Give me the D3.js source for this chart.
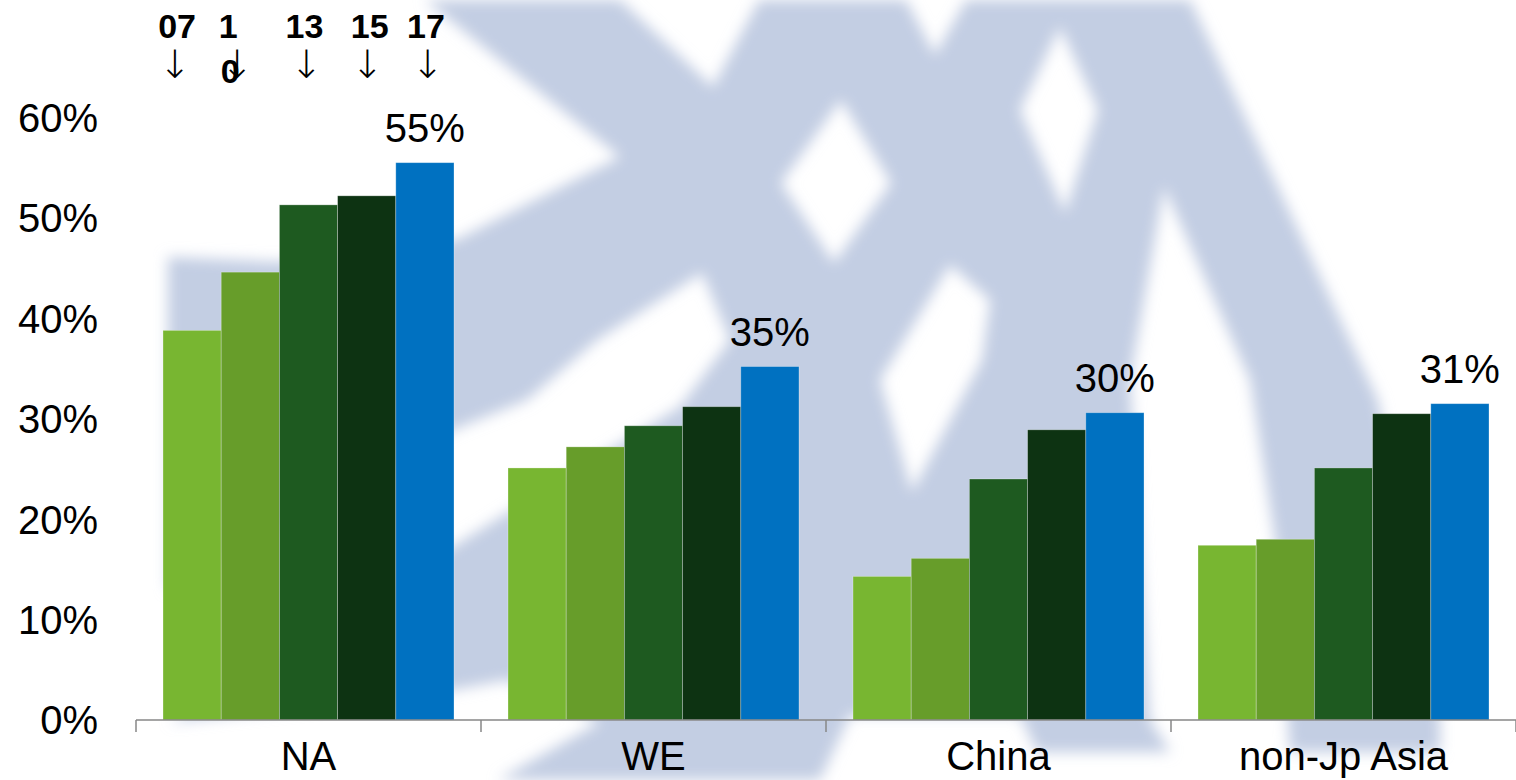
<!DOCTYPE html>
<html><head><meta charset="utf-8">
<script src="https://cdn.jsdelivr.net/npm/d3@7"></script>
<style>html,body{margin:0;padding:0;background:#fff;overflow:hidden;} svg{display:block;}</style>
</head><body><svg id="c" width="1516" height="780"></svg>
<script>
// ---------- data ----------
const categories = ["NA", "WE", "China", "non-Jp Asia"];
const series = ["07", "10", "13", "15", "17"];
const values07 = [38.8, 25.1, 14.3, 17.4];
const values10 = [44.6, 27.2, 16.1, 18.0];
const values13 = [51.3, 29.3, 24.0, 25.1];
const values15 = [52.2, 31.2, 28.9, 30.5];
const values17 = [55.5, 35.2, 30.6, 31.5];
const yTicks = [0, 10, 20, 30, 40, 50, 60];
const valueLabels = ["55%", "35%", "30%", "31%"];   // labels on the last series
const seriesLabelLines = [["07"], ["1", "0"], ["13"], ["15"], ["17"]]; // as wrapped in the source

// ---------- style / layout ----------
const colors = ["#78B631", "#679D2A", "#1E5A20", "#0D3312", "#0071C1"];
const plot = {left: 136, right: 1516, top: 117.5, bottom: 720};
const annOffsets = [-15, -22, -4, 3, 1];
const arrowOffsets = [-17, -13, -2, 1, 3];

// background watermark (decoration only)
const wmOuter = [[425,0],[620,0],[713,87],[759,0],[906,0],[935,55],[966,0],[1190,0],[1378,400],[1440,720],[1440,752],
  [1290,752],[1275,540],[1250,380],[1164,187],[1130,380],[1150,720],[1170,752],[1037,752],[1020,715],[850,715],
  [820,780],[498,780],[600,722],[507,680],[453,690],[170,722],[507,513],[680,407],[730,340],[702,273],[597,340],
  [527,400],[453,430],[168,590],[168,257],[280,262],[456,240],[620,157]];
const wmHoles = [
  [[841,100],[891,183],[834,263],[781,183]],
  [[1060,27],[1098,110],[1065,213],[1020,110]],
  [[950,265],[990,300],[982,360],[912,492],[880,380]]
];

const svg = d3.select("#c");
const defs = svg.append("defs");
defs.append("filter").attr("id","soft").attr("filterUnits","userSpaceOnUse")
  .attr("x",0).attr("y",0).attr("width",1516).attr("height",780)
  .append("feGaussianBlur").attr("stdDeviation", 7);

const wm = svg.append("g").attr("filter","url(#soft)");
const line = d3.line().curve(d3.curveLinearClosed);
let dPath = line(wmOuter);
wmHoles.forEach(h => dPath += line(h));
wm.append("path").attr("d", dPath).attr("fill","#C3CEE3").attr("fill-rule","evenodd");

// ---------- scales ----------
const x0 = d3.scaleBand().domain(categories).range([plot.left, plot.right]).paddingInner(0).paddingOuter(0);
const x1 = d3.scaleBand().domain(series).range([0, x0.bandwidth()]).paddingInner(0).paddingOuter(0.464);
const y = d3.scaleLinear().domain([0, 60]).range([plot.bottom, plot.top]);

const allValues = [values07, values10, values13, values15, values17];
const rows = [];
categories.forEach((c, ci) => series.forEach((s, si) => rows.push({c, s, si, v: allValues[si][ci]})));

// ---------- bars ----------
svg.append("g").selectAll("rect").data(rows).join("rect")
  .attr("x", d => x0(d.c) + x1(d.s))
  .attr("y", d => y(d.v))
  .attr("width", x1.bandwidth())
  .attr("height", d => y(0) - y(d.v))
  .attr("fill", d => colors[d.si])
  .attr("stroke", "rgba(255,255,255,0.35)")
  .attr("stroke-width", 0.8);

// ---------- x axis ----------
const xAxis = svg.append("g");
xAxis.append("line").attr("x1", plot.left).attr("x2", plot.right).attr("y1", y(0)).attr("y2", y(0))
  .attr("stroke", "#878787").attr("stroke-width", 1.5);
const boundaries = categories.map(c => x0(c)).concat([x0(categories[categories.length-1]) + x0.bandwidth()]);
xAxis.selectAll("line.tick").data(boundaries).join("line").attr("class","tick")
  .attr("x1", d => d).attr("x2", d => d).attr("y1", y(0)).attr("y2", y(0) + 12)
  .attr("stroke", "#878787").attr("stroke-width", 1.5);
xAxis.selectAll("text").data(categories).join("text")
  .attr("x", d => x0(d) + x0.bandwidth()/2).attr("y", 770)
  .attr("text-anchor","middle").attr("font-family","'Liberation Sans', Arial, sans-serif")
  .attr("font-size", 40).attr("fill","#000").text(d => d);

// ---------- y axis labels ----------
svg.append("g").selectAll("text").data(yTicks).join("text")
  .attr("x", 98).attr("y", d => y(d)).attr("dy", "0.36em")
  .attr("text-anchor","end").attr("font-family","'Liberation Sans', Arial, sans-serif")
  .attr("font-size", 40).attr("fill","#000").text(d => d + "%");

// ---------- value labels ----------
svg.append("g").selectAll("text").data(categories).join("text")
  .attr("x", c => x0(c) + x1(series[4]) + x1.bandwidth()/2)
  .attr("y", (c, i) => y(values17[i]) - 21)
  .attr("text-anchor","middle").attr("font-family","'Liberation Sans', Arial, sans-serif")
  .attr("font-size", 40).attr("fill","#000").text((c, i) => valueLabels[i]);

// ---------- series annotations ----------
const ann = svg.append("g");
series.forEach((s, si) => {
  const cx = x0(categories[0]) + x1(s) + x1.bandwidth()/2;
  const t = ann.append("text").attr("text-anchor","middle")
    .attr("font-family","'Liberation Sans', Arial, sans-serif").attr("font-weight","bold")
    .attr("font-size", 34).attr("fill","#000");
  seriesLabelLines[si].forEach((ln, li) => {
    t.append("tspan").attr("x", cx + annOffsets[si] + li*2).attr("y", 38 + li*45).text(ln);
  });
  ann.append("text").attr("x", cx + arrowOffsets[si]).attr("y", 78)
    .attr("text-anchor","middle").attr("font-family","'DejaVu Sans', sans-serif")
    .attr("font-weight","200")
    .attr("font-size", 39).attr("fill","#000").text("\u2193");
});
</script></body></html>
